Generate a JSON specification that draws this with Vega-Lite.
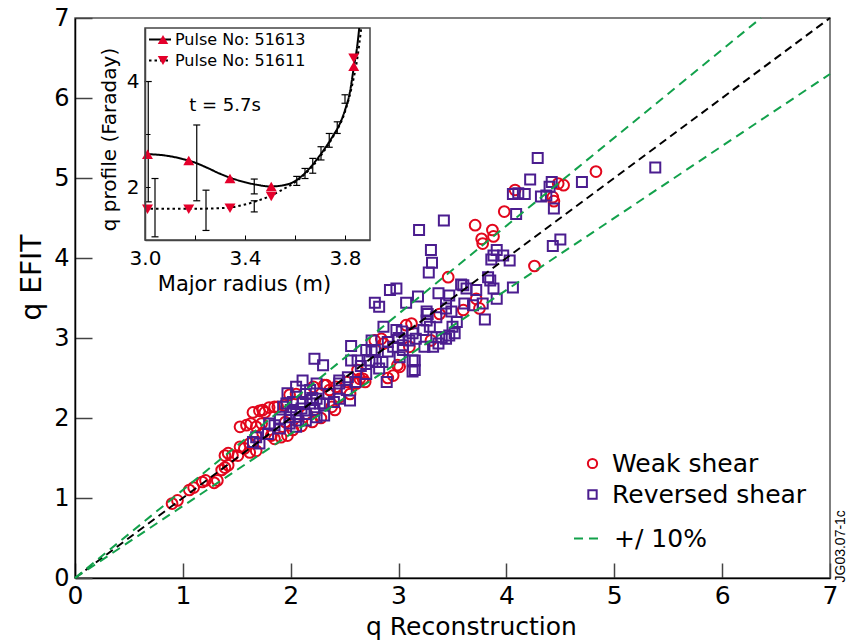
{
  "$schema": "https://vega.github.io/schema/vega-lite/v6.json",
  "width": 755,
  "height": 560,
  "autosize": {"type": "none"},
  "padding": {"left": 75, "top": 18, "right": 17, "bottom": 62},
  "background": "white",
  "config": {
    "font": "DejaVu Sans",
    "view": {"stroke": "#555555", "strokeWidth": 1.5},
    "axis": {"grid": false, "labelColor": "black", "titleColor": "black", "titleFontWeight": "normal", "labelFlush": false, "labelOverlap": false}
  },
  "datasets": {
    "pts": [
      {"x":0.90,"y":0.93,"series":"Weak shear"},{"x":0.95,"y":0.97,"series":"Weak shear"},{"x":1.06,"y":1.10,"series":"Weak shear"},{"x":1.10,"y":1.13,"series":"Weak shear"},{"x":1.18,"y":1.20,"series":"Weak shear"},{"x":1.21,"y":1.22,"series":"Weak shear"},{"x":1.29,"y":1.19,"series":"Weak shear"},{"x":1.32,"y":1.22,"series":"Weak shear"},{"x":1.36,"y":1.35,"series":"Weak shear"},{"x":1.39,"y":1.38,"series":"Weak shear"},{"x":1.42,"y":1.41,"series":"Weak shear"},{"x":1.39,"y":1.53,"series":"Weak shear"},{"x":1.42,"y":1.56,"series":"Weak shear"},{"x":1.46,"y":1.53,"series":"Weak shear"},{"x":1.51,"y":1.53,"series":"Weak shear"},{"x":1.53,"y":1.64,"series":"Weak shear"},{"x":1.57,"y":1.62,"series":"Weak shear"},{"x":1.62,"y":1.68,"series":"Weak shear"},{"x":1.53,"y":1.89,"series":"Weak shear"},{"x":1.59,"y":1.91,"series":"Weak shear"},{"x":1.63,"y":1.93,"series":"Weak shear"},{"x":1.68,"y":1.89,"series":"Weak shear"},{"x":1.65,"y":2.07,"series":"Weak shear"},{"x":1.71,"y":2.09,"series":"Weak shear"},{"x":1.76,"y":2.07,"series":"Weak shear"},{"x":1.80,"y":2.13,"series":"Weak shear"},{"x":1.88,"y":2.14,"series":"Weak shear"},{"x":1.73,"y":1.93,"series":"Weak shear"},{"x":1.74,"y":1.81,"series":"Weak shear"},{"x":1.68,"y":1.77,"series":"Weak shear"},{"x":1.62,"y":1.57,"series":"Weak shear"},{"x":1.68,"y":1.59,"series":"Weak shear"},{"x":1.82,"y":1.78,"series":"Weak shear"},{"x":1.85,"y":1.74,"series":"Weak shear"},{"x":1.91,"y":1.76,"series":"Weak shear"},{"x":1.97,"y":1.78,"series":"Weak shear"},{"x":2.02,"y":1.85,"series":"Weak shear"},{"x":1.99,"y":2.29,"series":"Weak shear"},{"x":2.05,"y":2.30,"series":"Weak shear"},{"x":1.74,"y":2.10,"series":"Weak shear"},{"x":1.85,"y":2.14,"series":"Weak shear"},{"x":1.94,"y":2.16,"series":"Weak shear"},{"x":2.38,"y":2.14,"series":"Weak shear"},{"x":2.41,"y":2.10,"series":"Weak shear"},{"x":2.33,"y":2.41,"series":"Weak shear"},{"x":2.52,"y":2.45,"series":"Weak shear"},{"x":2.67,"y":2.49,"series":"Weak shear"},{"x":2.95,"y":2.53,"series":"Weak shear"},{"x":3.01,"y":2.64,"series":"Weak shear"},{"x":3.07,"y":3.16,"series":"Weak shear"},{"x":3.12,"y":3.18,"series":"Weak shear"},{"x":2.78,"y":2.97,"series":"Weak shear"},{"x":2.84,"y":2.99,"series":"Weak shear"},{"x":3.30,"y":2.97,"series":"Weak shear"},{"x":3.46,"y":3.76,"series":"Weak shear"},{"x":3.72,"y":3.49,"series":"Weak shear"},{"x":3.60,"y":3.35,"series":"Weak shear"},{"x":3.75,"y":3.37,"series":"Weak shear"},{"x":3.38,"y":3.30,"series":"Weak shear"},{"x":2.86,"y":2.93,"series":"Weak shear"},{"x":2.64,"y":2.49,"series":"Weak shear"},{"x":2.69,"y":2.45,"series":"Weak shear"},{"x":2.61,"y":2.43,"series":"Weak shear"},{"x":2.42,"y":2.39,"series":"Weak shear"},{"x":2.36,"y":2.35,"series":"Weak shear"},{"x":2.31,"y":2.41,"series":"Weak shear"},{"x":2.21,"y":2.39,"series":"Weak shear"},{"x":2.45,"y":2.26,"series":"Weak shear"},{"x":2.99,"y":2.66,"series":"Weak shear"},{"x":2.90,"y":2.50,"series":"Weak shear"},{"x":4.83,"y":5.08,"series":"Weak shear"},{"x":4.53,"y":4.91,"series":"Weak shear"},{"x":4.48,"y":4.93,"series":"Weak shear"},{"x":4.43,"y":4.76,"series":"Weak shear"},{"x":4.44,"y":4.71,"series":"Weak shear"},{"x":4.08,"y":4.85,"series":"Weak shear"},{"x":3.98,"y":4.58,"series":"Weak shear"},{"x":3.71,"y":4.41,"series":"Weak shear"},{"x":3.87,"y":4.35,"series":"Weak shear"},{"x":3.88,"y":4.27,"series":"Weak shear"},{"x":3.77,"y":4.24,"series":"Weak shear"},{"x":3.78,"y":4.18,"series":"Weak shear"},{"x":4.26,"y":3.90,"series":"Weak shear"},{"x":3.10,"y":2.89,"series":"Weak shear"},{"x":2.28,"y":2.00,"series":"Weak shear"},{"x":2.20,"y":1.95,"series":"Weak shear"},{"x":2.10,"y":1.90,"series":"Weak shear"},{"x":1.95,"y":1.95,"series":"Weak shear"},{"x":2.15,"y":2.05,"series":"Weak shear"},{"x":2.55,"y":2.30,"series":"Weak shear"},{"x":2.62,"y":2.60,"series":"Weak shear"},
      {"x":4.29,"y":5.25,"series":"Reversed shear"},{"x":5.38,"y":5.13,"series":"Reversed shear"},{"x":4.70,"y":4.95,"series":"Reversed shear"},{"x":4.42,"y":4.95,"series":"Reversed shear"},{"x":4.22,"y":4.98,"series":"Reversed shear"},{"x":4.06,"y":4.80,"series":"Reversed shear"},{"x":4.11,"y":4.81,"series":"Reversed shear"},{"x":4.17,"y":4.80,"series":"Reversed shear"},{"x":4.32,"y":4.77,"series":"Reversed shear"},{"x":4.37,"y":4.78,"series":"Reversed shear"},{"x":4.40,"y":4.89,"series":"Reversed shear"},{"x":4.44,"y":4.62,"series":"Reversed shear"},{"x":4.09,"y":4.55,"series":"Reversed shear"},{"x":3.42,"y":4.47,"series":"Reversed shear"},{"x":3.19,"y":4.35,"series":"Reversed shear"},{"x":3.30,"y":4.10,"series":"Reversed shear"},{"x":3.31,"y":3.94,"series":"Reversed shear"},{"x":3.28,"y":3.82,"series":"Reversed shear"},{"x":4.43,"y":4.15,"series":"Reversed shear"},{"x":4.50,"y":4.23,"series":"Reversed shear"},{"x":3.91,"y":4.10,"series":"Reversed shear"},{"x":3.88,"y":4.03,"series":"Reversed shear"},{"x":3.97,"y":4.03,"series":"Reversed shear"},{"x":4.03,"y":3.97,"series":"Reversed shear"},{"x":3.86,"y":3.98,"series":"Reversed shear"},{"x":3.83,"y":3.76,"series":"Reversed shear"},{"x":3.85,"y":3.72,"series":"Reversed shear"},{"x":3.88,"y":3.62,"series":"Reversed shear"},{"x":3.91,"y":3.49,"series":"Reversed shear"},{"x":4.06,"y":3.63,"series":"Reversed shear"},{"x":3.80,"y":3.23,"series":"Reversed shear"},{"x":3.58,"y":3.67,"series":"Reversed shear"},{"x":3.63,"y":3.62,"series":"Reversed shear"},{"x":3.72,"y":3.60,"series":"Reversed shear"},{"x":3.61,"y":3.43,"series":"Reversed shear"},{"x":3.69,"y":3.41,"series":"Reversed shear"},{"x":3.47,"y":3.53,"series":"Reversed shear"},{"x":3.49,"y":3.33,"series":"Reversed shear"},{"x":3.37,"y":3.56,"series":"Reversed shear"},{"x":3.44,"y":3.43,"series":"Reversed shear"},{"x":3.18,"y":3.52,"series":"Reversed shear"},{"x":3.07,"y":3.44,"series":"Reversed shear"},{"x":3.27,"y":3.30,"series":"Reversed shear"},{"x":3.54,"y":3.20,"series":"Reversed shear"},{"x":3.52,"y":3.06,"series":"Reversed shear"},{"x":3.44,"y":2.99,"series":"Reversed shear"},{"x":3.35,"y":3.01,"series":"Reversed shear"},{"x":3.37,"y":2.93,"series":"Reversed shear"},{"x":3.24,"y":2.89,"series":"Reversed shear"},{"x":3.13,"y":2.72,"series":"Reversed shear"},{"x":3.13,"y":2.58,"series":"Reversed shear"},
      {"x":2.92,"y":3.60,"series":"Reversed shear"},{"x":2.98,"y":3.62,"series":"Reversed shear"},{"x":2.78,"y":3.44,"series":"Reversed shear"},{"x":2.82,"y":3.39,"series":"Reversed shear"},{"x":3.60,"y":3.66,"series":"Reversed shear"},{"x":3.78,"y":3.43,"series":"Reversed shear"},{"x":3.26,"y":3.33,"series":"Reversed shear"},{"x":3.35,"y":3.26,"series":"Reversed shear"},{"x":3.50,"y":3.14,"series":"Reversed shear"},{"x":3.40,"y":3.01,"series":"Reversed shear"},{"x":3.26,"y":3.22,"series":"Reversed shear"},{"x":3.29,"y":3.14,"series":"Reversed shear"},{"x":3.23,"y":3.10,"series":"Reversed shear"},{"x":3.32,"y":2.89,"series":"Reversed shear"},{"x":3.16,"y":2.99,"series":"Reversed shear"},{"x":3.10,"y":2.97,"series":"Reversed shear"},{"x":3.13,"y":3.06,"series":"Reversed shear"},{"x":3.03,"y":3.08,"series":"Reversed shear"},{"x":2.98,"y":3.10,"series":"Reversed shear"},{"x":2.86,"y":3.14,"series":"Reversed shear"},{"x":2.75,"y":2.97,"series":"Reversed shear"},{"x":2.78,"y":2.85,"series":"Reversed shear"},{"x":2.90,"y":2.83,"series":"Reversed shear"},{"x":2.95,"y":2.89,"series":"Reversed shear"},{"x":3.04,"y":2.85,"series":"Reversed shear"},{"x":3.01,"y":2.76,"series":"Reversed shear"},{"x":3.15,"y":2.72,"series":"Reversed shear"},{"x":3.15,"y":2.60,"series":"Reversed shear"},{"x":2.56,"y":2.90,"series":"Reversed shear"},{"x":2.62,"y":2.72,"series":"Reversed shear"},{"x":2.56,"y":2.72,"series":"Reversed shear"},{"x":2.73,"y":2.72,"series":"Reversed shear"},{"x":2.79,"y":2.70,"series":"Reversed shear"},{"x":2.82,"y":2.62,"series":"Reversed shear"},{"x":2.75,"y":2.83,"series":"Reversed shear"},{"x":2.22,"y":2.74,"series":"Reversed shear"},{"x":2.30,"y":2.66,"series":"Reversed shear"},{"x":2.45,"y":2.47,"series":"Reversed shear"},{"x":2.53,"y":2.51,"series":"Reversed shear"},{"x":2.11,"y":2.47,"series":"Reversed shear"},{"x":2.18,"y":2.35,"series":"Reversed shear"},{"x":2.24,"y":2.24,"series":"Reversed shear"},{"x":2.45,"y":2.24,"series":"Reversed shear"},{"x":2.55,"y":2.22,"series":"Reversed shear"},{"x":2.52,"y":2.35,"series":"Reversed shear"},{"x":2.11,"y":2.20,"series":"Reversed shear"},{"x":2.27,"y":2.18,"series":"Reversed shear"},{"x":2.18,"y":2.18,"series":"Reversed shear"},
      {"x":2.24,"y":2.43,"series":"Reversed shear"},{"x":2.14,"y":2.30,"series":"Reversed shear"},{"x":1.96,"y":2.18,"series":"Reversed shear"},{"x":2.02,"y":2.20,"series":"Reversed shear"},{"x":1.93,"y":2.14,"series":"Reversed shear"},{"x":2.30,"y":2.18,"series":"Reversed shear"},{"x":2.22,"y":2.10,"series":"Reversed shear"},{"x":2.14,"y":2.05,"series":"Reversed shear"},{"x":2.05,"y":2.05,"series":"Reversed shear"},{"x":1.99,"y":2.01,"series":"Reversed shear"},{"x":2.07,"y":1.97,"series":"Reversed shear"},{"x":2.14,"y":1.97,"series":"Reversed shear"},{"x":2.24,"y":2.01,"series":"Reversed shear"},{"x":2.31,"y":2.03,"series":"Reversed shear"},{"x":1.85,"y":1.91,"series":"Reversed shear"},{"x":1.90,"y":1.87,"series":"Reversed shear"},{"x":1.79,"y":1.80,"series":"Reversed shear"},{"x":1.99,"y":1.93,"series":"Reversed shear"},{"x":2.05,"y":1.89,"series":"Reversed shear"},{"x":1.65,"y":1.70,"series":"Reversed shear"},{"x":1.71,"y":1.68,"series":"Reversed shear"},
      {"x":3.44,"y":3.37,"series":"Reversed shear"},{"x":3.47,"y":3.03,"series":"Reversed shear"},{"x":3.04,"y":2.91,"series":"Reversed shear"},{"x":2.89,"y":2.45,"series":"Reversed shear"},{"x":2.45,"y":2.43,"series":"Reversed shear"},{"x":2.05,"y":2.39,"series":"Reversed shear"},{"x":1.97,"y":2.31,"series":"Reversed shear"},{"x":1.80,"y":1.93,"series":"Reversed shear"},{"x":1.68,"y":1.76,"series":"Reversed shear"},{"x":1.90,"y":1.98,"series":"Reversed shear"},{"x":2.00,"y":2.10,"series":"Reversed shear"},{"x":2.10,"y":2.12,"series":"Reversed shear"},{"x":2.20,"y":2.25,"series":"Reversed shear"},{"x":2.35,"y":2.30,"series":"Reversed shear"},{"x":2.40,"y":2.20,"series":"Reversed shear"},{"x":2.60,"y":2.45,"series":"Reversed shear"},{"x":2.70,"y":2.55,"series":"Reversed shear"},{"x":2.65,"y":2.65,"series":"Reversed shear"},{"x":2.85,"y":2.70,"series":"Reversed shear"},{"x":2.90,"y":2.95,"series":"Reversed shear"},{"x":3.00,"y":3.00,"series":"Reversed shear"},{"x":2.70,"y":2.85,"series":"Reversed shear"}
    ],
    "diag": [{"x": 0, "y": 0}, {"x": 7, "y": 7}],
    "tol": [
      {"line": "hi", "series": "+/ 10%", "x": 0, "y": 0}, {"line": "hi", "series": "+/ 10%", "x": 6.36, "y": 7},
      {"line": "lo", "series": "+/ 10%", "x": 0, "y": 0}, {"line": "lo", "series": "+/ 10%", "x": 7, "y": 6.3}
    ],
    "box": [{"R": 3.0, "R2": 3.9, "q": 1, "q2": 5}],
    "err": [
      {"R": 3.013, "lo": 1.72, "hi": 3.99}, {"R": 3.04, "lo": 1.06, "hi": 2.16}, {"R": 3.207, "lo": 1.74, "hi": 3.17},
      {"R": 3.244, "lo": 1.18, "hi": 1.94}, {"R": 3.437, "lo": 1.87, "hi": 2.15}, {"R": 3.437, "lo": 1.53, "hi": 1.74},
      {"R": 3.607, "lo": 2.03, "hi": 2.20}, {"R": 3.64, "lo": 2.16, "hi": 2.35}, {"R": 3.671, "lo": 2.26, "hi": 2.54},
      {"R": 3.704, "lo": 2.51, "hi": 2.76}, {"R": 3.737, "lo": 2.75, "hi": 3.01}, {"R": 3.769, "lo": 3.01, "hi": 3.23},
      {"R": 3.80, "lo": 3.58, "hi": 3.74}
    ],
    "prof": [
      {"R": 3.0, "q": 2.62, "pulse": "Pulse No: 51613"}, {"R": 3.05, "q": 2.61, "pulse": "Pulse No: 51613"}, {"R": 3.1, "q": 2.58, "pulse": "Pulse No: 51613"}, {"R": 3.15, "q": 2.53, "pulse": "Pulse No: 51613"}, {"R": 3.2, "q": 2.46, "pulse": "Pulse No: 51613"}, {"R": 3.25, "q": 2.36, "pulse": "Pulse No: 51613"}, {"R": 3.3, "q": 2.25, "pulse": "Pulse No: 51613"}, {"R": 3.35, "q": 2.16, "pulse": "Pulse No: 51613"}, {"R": 3.4, "q": 2.09, "pulse": "Pulse No: 51613"}, {"R": 3.45, "q": 2.04, "pulse": "Pulse No: 51613"}, {"R": 3.5, "q": 2.01, "pulse": "Pulse No: 51613"}, {"R": 3.55, "q": 2.03, "pulse": "Pulse No: 51613"}, {"R": 3.6, "q": 2.11, "pulse": "Pulse No: 51613"}, {"R": 3.65, "q": 2.31, "pulse": "Pulse No: 51613"}, {"R": 3.7, "q": 2.6, "pulse": "Pulse No: 51613"}, {"R": 3.75, "q": 2.95, "pulse": "Pulse No: 51613"}, {"R": 3.78, "q": 3.2, "pulse": "Pulse No: 51613"}, {"R": 3.8, "q": 3.45, "pulse": "Pulse No: 51613"}, {"R": 3.82, "q": 3.8, "pulse": "Pulse No: 51613"}, {"R": 3.835, "q": 4.25, "pulse": "Pulse No: 51613"}, {"R": 3.85, "q": 4.7, "pulse": "Pulse No: 51613"}, {"R": 3.857, "q": 5.0, "pulse": "Pulse No: 51613"},
      {"R": 3.0, "q": 1.59, "pulse": "Pulse No: 51611"}, {"R": 3.1, "q": 1.59, "pulse": "Pulse No: 51611"}, {"R": 3.2, "q": 1.59, "pulse": "Pulse No: 51611"}, {"R": 3.3, "q": 1.6, "pulse": "Pulse No: 51611"}, {"R": 3.35, "q": 1.62, "pulse": "Pulse No: 51611"}, {"R": 3.4, "q": 1.67, "pulse": "Pulse No: 51611"}, {"R": 3.45, "q": 1.74, "pulse": "Pulse No: 51611"}, {"R": 3.5, "q": 1.83, "pulse": "Pulse No: 51611"}, {"R": 3.55, "q": 1.95, "pulse": "Pulse No: 51611"}, {"R": 3.6, "q": 2.09, "pulse": "Pulse No: 51611"}, {"R": 3.65, "q": 2.29, "pulse": "Pulse No: 51611"}, {"R": 3.7, "q": 2.57, "pulse": "Pulse No: 51611"}, {"R": 3.75, "q": 2.93, "pulse": "Pulse No: 51611"}, {"R": 3.8, "q": 3.42, "pulse": "Pulse No: 51611"}, {"R": 3.83, "q": 3.95, "pulse": "Pulse No: 51611"}, {"R": 3.85, "q": 4.45, "pulse": "Pulse No: 51611"}, {"R": 3.865, "q": 5.0, "pulse": "Pulse No: 51611"}
    ],
    "tri": [
      {"R": 3.01, "q": 2.62, "p": "up"}, {"R": 3.175, "q": 2.5, "p": "up"}, {"R": 3.34, "q": 2.16, "p": "up"}, {"R": 3.505, "q": 2.01, "p": "up"}, {"R": 3.835, "q": 4.28, "p": "up"},
      {"R": 3.01, "q": 1.58, "p": "down"}, {"R": 3.175, "q": 1.58, "p": "down"}, {"R": 3.34, "q": 1.6, "p": "down"}, {"R": 3.505, "q": 1.82, "p": "down"}, {"R": 3.835, "q": 4.43, "p": "down"}
    ],
    "note": [{"R": 3.32, "q": 3.52, "label": "t = 5.7s"}]
  },
  "layer": [
    {
      "layer": [
        {
          "data": {"name": "pts"},
          "transform": [{"filter": "datum.series === 'Weak shear'"}],
          "mark": {"type": "point", "filled": false, "strokeWidth": 2, "size": 115, "opacity": 1, "color": "#e2061c"},
          "encoding": {
            "x": {"field": "x", "type": "quantitative", "scale": {"domain": [0, 7], "nice": false, "zero": false},
              "axis": {"values": [0, 1, 2, 3, 4, 5, 6, 7], "format": "d", "tickSize": -15, "tickColor": "#444444", "tickWidth": 1.5, "domainColor": "black", "domainWidth": 1.5, "labelFontSize": 25, "labelPadding": 20, "title": "q Reconstruction", "titleFontSize": 25, "titleX": 396, "titleY": 56, "titleBaseline": "alphabetic", "titleAlign": "center"}},
            "y": {"field": "y", "type": "quantitative", "scale": {"domain": [0, 7], "nice": false, "zero": false},
              "axis": {"values": [0, 1, 2, 3, 4, 5, 6, 7], "format": "d", "tickSize": -17, "tickColor": "#444444", "tickWidth": 1.5, "domainColor": "black", "domainWidth": 1.5, "labelFontSize": 24, "labelPadding": 23, "title": "q EFIT", "titleFontSize": 28, "titleX": -35, "titleY": 259, "titleBaseline": "alphabetic", "titleAlign": "center", "titleAngle": -90}},
            "shape": {"field": "series", "type": "nominal",
              "scale": {"domain": ["Weak shear"], "range": ["circle"]},
              "legend": {"orient": "none", "legendX": 505, "legendY": 433, "title": null, "labelFontSize": 25, "labelColor": "black", "labelLimit": 400, "symbolSize": 85, "symbolStrokeWidth": 2, "symbolStrokeColor": "#e2061c", "symbolFillColor": "transparent", "labelOffset": 7, "padding": 0}}
          }
        },
        {
          "data": {"name": "pts"},
          "transform": [{"filter": "datum.series === 'Reversed shear'"}],
          "mark": {"type": "point", "filled": false, "strokeWidth": 2, "size": 100, "opacity": 1, "color": "#4b1d8f"},
          "encoding": {
            "x": {"field": "x", "type": "quantitative"},
            "y": {"field": "y", "type": "quantitative"},
            "shape": {"field": "series", "type": "nominal",
              "scale": {"domain": ["Reversed shear"], "range": ["square"]},
              "legend": {"orient": "none", "legendX": 505, "legendY": 464, "title": null, "labelFontSize": 25, "labelColor": "black", "labelLimit": 400, "symbolSize": 70, "symbolStrokeWidth": 2, "symbolStrokeColor": "#4b1d8f", "symbolFillColor": "transparent", "labelOffset": 7, "padding": 0}}
          }
        },
        {
          "data": {"name": "diag"},
          "mark": {"type": "line", "color": "black", "strokeWidth": 2, "strokeDash": [8, 5]},
          "encoding": {"x": {"field": "x", "type": "quantitative"}, "y": {"field": "y", "type": "quantitative"}}
        },
        {
          "data": {"name": "tol"},
          "mark": {"type": "line", "strokeWidth": 2, "color": "#12a14b"},
          "encoding": {
            "x": {"field": "x", "type": "quantitative"},
            "y": {"field": "y", "type": "quantitative"},
            "detail": {"field": "line", "type": "nominal"},
            "strokeDash": {"field": "series", "type": "nominal",
              "scale": {"domain": ["+/ 10%"], "range": [[9, 6]]},
              "legend": {"orient": "none", "legendX": 498, "legendY": 506, "title": null, "labelFontSize": 25, "labelColor": "black", "labelLimit": 400, "symbolType": "stroke", "symbolSize": 729, "symbolStrokeWidth": 2, "symbolStrokeColor": "#12a14b", "labelOffset": 12, "padding": 0}}
          }
        }
      ],
      "resolve": {"scale": {"shape": "independent"}}
    },
    {
      "layer": [
        {
          "data": {"name": "box"},
          "mark": {"type": "rect", "fillOpacity": 0, "stroke": "#444444", "strokeWidth": 1.5},
          "encoding": {
            "x": {"field": "R", "type": "quantitative", "scale": {"domain": [3.0, 3.9], "range": [70, 295], "nice": false, "zero": false},
              "axis": {"orient": "bottom", "offset": -338, "zindex": 1, "values": [3.0, 3.2, 3.4, 3.6, 3.8], "format": ".1f", "labelExpr": "(datum.label == '3.2' || datum.label == '3.6') ? '' : datum.label", "tickSize": -5, "tickColor": "black", "domainColor": "#444444", "domainWidth": 1.5, "labelFontSize": 20, "labelPadding": 13, "title": "Major radius (m)", "titleFontSize": 21, "titleX": 169, "titleY": 50, "titleBaseline": "alphabetic", "titleAlign": "center"}},
            "x2": {"field": "R2"},
            "y": {"field": "q", "type": "quantitative", "scale": {"domain": [1, 5], "range": [222, 10], "nice": false, "zero": false},
              "axis": {"orient": "left", "offset": -70, "zindex": 1, "values": [2, 3, 4], "format": "d", "labelExpr": "datum.value == 3 ? '' : datum.label", "tickSize": -5, "tickColor": "black", "domainColor": "#444444", "domainWidth": 1.5, "labelFontSize": 20, "labelPadding": 11, "title": "q profile (Faraday)", "titleFontSize": 20, "titleX": -30, "titleY": 121, "titleBaseline": "alphabetic", "titleAlign": "center", "titleAngle": -90}},
            "y2": {"field": "q2"}
          }
        },
        {
          "data": {"name": "err"},
          "mark": {"type": "rule", "color": "black", "strokeWidth": 1.2},
          "encoding": {"x": {"field": "R", "type": "quantitative"}, "y": {"field": "lo", "type": "quantitative"}, "y2": {"field": "hi"}}
        },
        {
          "data": {"name": "err"},
          "mark": {"type": "tick", "orient": "horizontal", "color": "black", "size": 7, "thickness": 1.2, "opacity": 1},
          "encoding": {"x": {"field": "R", "type": "quantitative"}, "y": {"field": "lo", "type": "quantitative"}}
        },
        {
          "data": {"name": "err"},
          "mark": {"type": "tick", "orient": "horizontal", "color": "black", "size": 7, "thickness": 1.2, "opacity": 1},
          "encoding": {"x": {"field": "R", "type": "quantitative"}, "y": {"field": "hi", "type": "quantitative"}}
        },
        {
          "data": {"name": "prof"},
          "mark": {"type": "line", "color": "black", "strokeWidth": 2, "interpolate": "monotone"},
          "encoding": {
            "x": {"field": "R", "type": "quantitative"},
            "y": {"field": "q", "type": "quantitative"},
            "strokeDash": {"field": "pulse", "type": "nominal",
              "scale": {"domain": ["Pulse No: 51613", "Pulse No: 51611"], "range": [[1, 0], [2.5, 3]]},
              "legend": {"orient": "none", "legendX": 73, "legendY": 11, "title": null, "symbolType": "stroke", "symbolSize": 484, "symbolStrokeColor": "black", "symbolStrokeWidth": 2, "labelFontSize": 16, "labelColor": "black", "labelLimit": 300, "labelOffset": 3, "clipHeight": 21, "rowPadding": 0, "padding": 0, "zindex": 1}}
          }
        },
        {
          "data": {"name": "tri"},
          "mark": {"type": "point", "filled": true, "color": "#e4002b", "size": 120, "opacity": 1},
          "encoding": {
            "x": {"field": "R", "type": "quantitative"},
            "y": {"field": "q", "type": "quantitative"},
            "shape": {"field": "p", "type": "nominal",
              "scale": {"domain": ["up", "down"], "range": ["triangle-up", "triangle-down"]},
              "legend": {"orient": "none", "legendX": 80, "legendY": 11, "title": null, "symbolSize": 110, "symbolFillColor": "#e4002b", "symbolStrokeColor": "#e4002b", "labelFontSize": 16, "labelExpr": "''", "labelOffset": 3, "clipHeight": 21, "rowPadding": 0, "padding": 0, "zindex": 2}}
          }
        },
        {
          "data": {"name": "note"},
          "mark": {"type": "text", "fontSize": 18, "align": "center", "baseline": "middle", "color": "black"},
          "encoding": {"x": {"field": "R", "type": "quantitative"}, "y": {"field": "q", "type": "quantitative"}, "text": {"field": "label"}}
        }
      ]
    },
    {
      "data": {"name": "diag"},
      "mark": {"type": "point", "opacity": 0},
      "encoding": {
        "y": {"field": "y", "type": "quantitative",
          "axis": {"orient": "right", "labels": false, "ticks": false, "domain": false, "grid": false, "title": "JG03.07-1c", "titleAngle": -90, "titleFont": "Liberation Sans", "titleFontSize": 14, "titleX": 3, "titleY": 564, "titleAlign": "left", "titleBaseline": "top"}}
      }
    }
  ],
  "resolve": {"scale": {"x": "independent", "y": "independent", "shape": "independent", "strokeDash": "independent"}}
}
